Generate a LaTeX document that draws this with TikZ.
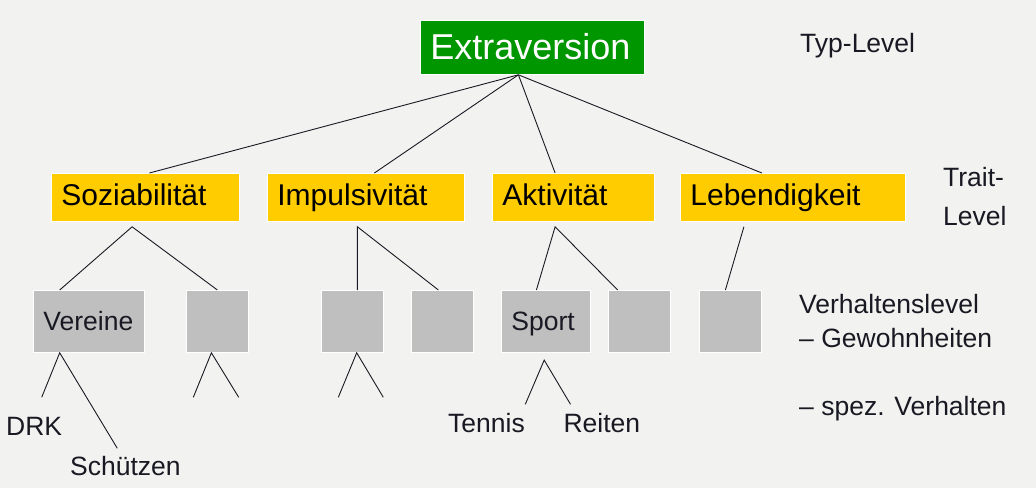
\documentclass[tikz,border=0pt]{standalone}
\usepackage{fontspec}
\setmainfont{Liberation Sans}
\usetikzlibrary{calc}
\definecolor{bg}{RGB}{242,242,240}
\definecolor{xgreen}{RGB}{0,150,0}
\definecolor{tyellow}{RGB}{255,204,0}
\definecolor{bgrey}{RGB}{191,191,191}
\definecolor{ink}{RGB}{25,25,35}
\begin{document}
\begin{tikzpicture}[x=1pt,y=-1pt,
  box/.style={draw=white, line width=0.8pt, anchor=north west, inner xsep=10pt, inner ysep=0pt, align=left},
  extbox/.style={box, fill=xgreen, text=white, font=\fontsize{36}{40}\selectfont, text height=26pt, text depth=1.5pt, minimum height=54pt},
  traitbox/.style={box, fill=tyellow, text=black, font=\fontsize{30}{34}\selectfont, text height=21.6pt, text depth=5.6pt, minimum height=48pt},
  behbox/.style={box, fill=bgrey, text=ink, font=\fontsize{26.5}{30}\selectfont, text height=19pt, text depth=1pt, minimum height=62pt},
  lbl/.style={anchor=base west, inner sep=0pt, text=ink, font=\fontsize{26.5}{30}\selectfont},
  conn/.style={draw=ink, line width=0.9pt}]
\useasboundingbox (0,0) rectangle (1036,488);
\fill[bg] (0,0) rectangle (1036,488);

% boxes
\node[extbox, text width=204pt] (ext) at (420,20) {Extraversion};
\node[traitbox, text width=168pt] (soz) at (51,173) {Soziabilität};
\node[traitbox, text width=177pt] (imp) at (267,173) {Impulsivität};
\node[traitbox, text width=142pt] (akt) at (492,173) {Aktivität};
\node[traitbox, text width=205pt] (leb) at (680,173) {Lebendigkeit};

\node[behbox, text width=91pt] (vere) at (33,290) {Vereine};
\node[behbox, text width=42pt] (b2) at (186,290) {};
\node[behbox, text width=42pt] (b3) at (321,290) {};
\node[behbox, text width=42pt] (b4) at (411,290) {};
\node[behbox, text width=69pt] (sport) at (501,290) {Sport};
\node[behbox, text width=42pt] (b6) at (608,290) {};
\node[behbox, text width=42pt] (b7) at (699,290) {};

% labels
\node[lbl] (typ) at (800,52) {Typ-Level};
\node[lbl] (trait1) at (943,186) {Trait-};
\node[lbl] (trait2) at (943,225) {Level};
\node[lbl] (verh1) at (799,313) {Verhaltenslevel};
\node[lbl] (verh2) at (799,347.5) {– Gewohnheiten};
\node[lbl] (verh3) at (799,415) {– spez. Verhalten};
\node[lbl] (drk) at (6,435.3) {DRK};
\node[lbl] (schue) at (70,475) {Schützen};
\node[lbl] (tennis) at (448,432.7) {Tennis};
\node[lbl] (reiten) at (563.4,432.7) {Reiten};

% free ends
\coordinate (e1) at (41.7,397.3);
\coordinate (e2) at (117.3,448.3);
\coordinate (e3) at (193.3,397.3);
\coordinate (e4) at (238.7,397.3);
\coordinate (e5) at (338.3,397.3);
\coordinate (e6) at (383.3,397.3);
\coordinate (e7) at (525.3,404.3);
\coordinate (e8) at (570.5,404.3);

% connectors: type to traits
\draw[conn] ($(ext.south)+(-14,0)$) -- ($(soz.north)+(4,0)$);
\draw[conn] ($(ext.south)+(-14,0)$) -- ($(imp.north)+(8.5,0)$);
\draw[conn] ($(ext.south)+(-14,0)$) -- ($(akt.north)+(-18.3,0)$);
\draw[conn] ($(ext.south)+(-14,0)$) -- ($(leb.north)+(-31,0)$);

% traits to behaviours
\draw[conn] ($(vere.north)+(-29.2,0)$) -- ($(soz.south)+(-13.3,5)$) -- ($(b2.north)+(0,0)$);
\draw[conn] ($(b3.north)+(5,0)$) -- ($(imp.south)+(-8.5,5)$) -- ($(b4.north)+(-4,0)$);
\draw[conn] ($(sport.north)+(-9.5,0)$) -- ($(akt.south)+(-18.3,5)$) -- ($(b6.north)+(-21.7,0)$);
\draw[conn] ($(leb.south)+(-49,5)$) -- ($(b7.north)+(-5,0)$);

% behaviours to specific behaviours
\draw[conn] (e1) -- ($(vere.south)+(-29.2,0)$) -- (e2);
\draw[conn] (e3) -- ($(b2.south)+(-6,0)$) -- (e4);
\draw[conn] (e5) -- ($(b3.south)+(4.3,0)$) -- (e6);
\draw[conn] (e7) -- ($(sport.south)+(-1.7,7.3)$) -- (e8);
\end{tikzpicture}
\end{document}
